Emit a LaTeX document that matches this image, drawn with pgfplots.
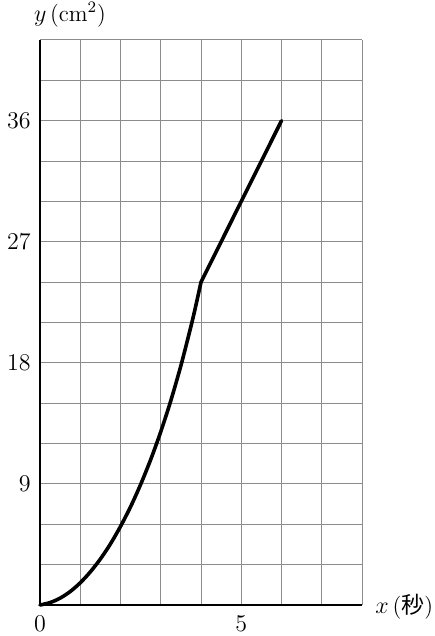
\documentclass[border=0pt]{standalone}
\usepackage{fontspec}
\usepackage{pgfplots}
\pgfplotsset{compat=1.18}
\newfontfamily\cjk{Noto Sans CJK JP}

\begin{document}
\begin{tikzpicture}[font=\fontsize{11.5}{13}\selectfont]
  \path[use as bounding box] (-20pt,-15.5pt) rectangle (197pt,302.5pt);
  \begin{axis}[
      at={(0,0)}, anchor=origin,
      scale only axis,
      width=161pt, height=282.5pt,
      xmin=0, xmax=8, ymin=0, ymax=42,
      enlargelimits=false,
      axis x line=bottom, axis y line=left,
      axis line style={-, line width=1pt, black},
      xtick={0,5}, minor xtick={1,2,3,4,5,6,7,8},
      ytick={9,18,27,36}, minor ytick={3,6,...,42},
      major tick length=0pt, minor tick length=0pt,
      grid=both,
      major grid style={line width=0.5pt, color=black!45},
      minor grid style={line width=0.5pt, color=black!45},
      xticklabel style={yshift=-2.2pt},
      yticklabel style={xshift=-1.2pt},
      clip=false,
    ]
    % curved part
    \addplot[black, line width=1.8pt, no marks, smooth, line cap=round] coordinates {
      (0,0) (0.25,0.18) (0.5,0.51) (0.75,1.00) (1,1.65)
      (1.25,2.46) (1.5,3.42) (1.75,4.54) (2,5.84)
      (2.25,7.30) (2.5,8.96) (2.75,10.81) (3,12.88)
      (3.25,15.19) (3.5,17.79) (3.75,20.71) (3.875,22.30) (4,24)
    };
    % straight part
    \addplot[black, line width=1.8pt, no marks, line cap=round] coordinates {
      (4,24) (6,36)
    };
    \node[anchor=center, inner sep=0pt, xshift=15pt, yshift=12.5pt]
      at (rel axis cs:0,1) {$y$\,(cm$^{2}$)};
    \node[anchor=west, inner sep=0pt, xshift=6.5pt, yshift=-1pt]
      at (rel axis cs:1,0) {$x$\,({\cjk 秒})};
  \end{axis}
\end{tikzpicture}
\end{document}
